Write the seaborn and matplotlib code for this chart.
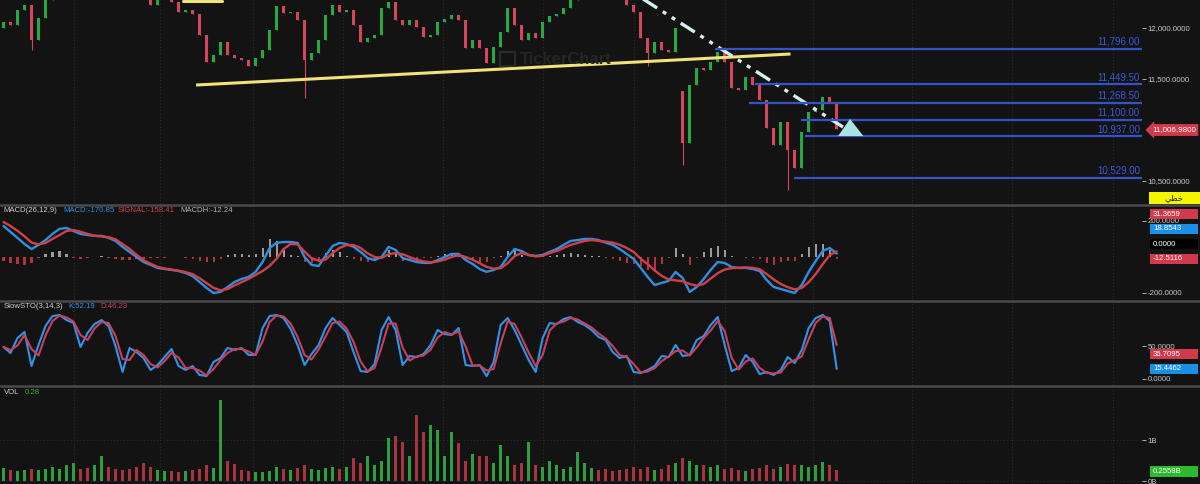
import matplotlib
matplotlib.use("Agg")
import matplotlib.pyplot as plt
from matplotlib.patches import Rectangle
from matplotlib.lines import Line2D
from matplotlib.ticker import FuncFormatter
import seaborn as sns
import numpy as np
import pandas as pd

# ---- data (one value per candle) ----
closes = [12059, 12029, 12176, 12225, 11880, 12098, 12274,
          12330, 12380, 12420, 12450, 12430, 12400, 12440, 12470, 12450, 12420, 12390, 12360, 12330, 12290,
          12225, 12320, 12340, 12255, 12157, 12176, 12137, 11931, 11667, 11735,
          11863, 11735, 11706, 11686, 11627, 11706, 11784, 11980, 12216, 12147,
          12157, 12078, 11686, 11755, 11882, 12127, 12225, 12157, 12176, 12029,
          11863, 11902, 11931, 12196, 12255, 12078, 12029, 12078, 12010, 11912,
          11931, 12059, 12088, 12127, 12078, 11804, 11882, 11804, 11657, 11814,
          11961, 12196, 12029, 11882, 11951, 11902, 12059, 12118, 12137, 12196,
          12274, 12330, 12380, 12400, 12380, 12350, 12310, 12300, 12225, 12157,
          11902, 11755, 11863, 11784, 11765, 12000, 10870, 11441, 11608, 11588,
          11667, 11765, 11667, 11412, 11392, 11520, 11441, 11294, 11020, 10853,
          11078, 10804, 10627, 10980, 11176, 11196, 11324, 11265, 11007]
gap_opens = {0: 12000, 97: 11380}
long_lows = {4: 11784, 43: 11314, 92: 11630, 97: 10657, 112: 10412}

volumes_b = [0.32, 0.28, 0.25, 0.27, 0.30, 0.28, 0.30, 0.33, 0.30, 0.38,
             0.45, 0.30, 0.32, 0.38, 0.62, 0.35, 0.30, 0.28, 0.30, 0.33,
             0.45, 0.35, 0.28, 0.25, 0.25, 0.22, 0.25, 0.28, 0.30, 0.38,
             0.32, 1.98, 0.50, 0.42, 0.28, 0.25, 0.22, 0.22, 0.24, 0.35,
             0.30, 0.28, 0.32, 0.38, 0.30, 0.28, 0.32, 0.35, 0.30, 0.33,
             0.55, 0.45, 0.60, 0.40, 0.50, 1.05, 1.10, 0.95, 0.60, 1.60,
             1.20, 1.37, 1.25, 0.60, 1.20, 0.93, 0.50, 0.65, 0.60, 0.62,
             0.45, 0.88, 0.60, 0.38, 0.45, 0.95, 0.40, 0.35, 0.50, 0.38,
             0.30, 0.35, 0.70, 0.45, 0.32, 0.28, 0.30, 0.25, 0.28, 0.30,
             0.35, 0.30, 0.33, 0.28, 0.30, 0.40, 0.45, 0.56, 0.48, 0.40,
             0.38, 0.35, 0.40, 0.30, 0.32, 0.28, 0.25, 0.30, 0.32, 0.38,
             0.30, 0.35, 0.42, 0.40, 0.38, 0.35, 0.40, 0.46, 0.38, 0.26]

macd = [172, 139, 106, 72, 44, 67, 94, 128, 156, 161,
        144, 128, 122, 117, 117, 106, 89, 56, 28, 0,
        -28, -44, -61, -67, -72, -78, -89, -106, -139, -172,
        -200, -194, -167, -139, -122, -111, -83, -28, 50, 78,
        83, 83, 78, 0, -44, -50, 6, 61, 78, 72,
        56, 28, -6, -17, 0, 56, 39, -6, -17, -28,
        -33, -33, -17, 0, 17, 17, -17, -39, -67, -83,
        -72, -56, 0, 44, 33, 11, 6, 11, 28, 44,
        67, 89, 94, 100, 100, 94, 80, 67, 44, 17,
        -11, -61, -111, -156, -144, -133, -83, -117, -194, -167,
        -122, -72, -28, -33, -56, -61, -61, -67, -78, -128,
        -167, -178, -189, -200, -156, -83, -22, 33, 50, 19]
signal = [194, 172, 145, 115, 80, 70, 78, 100, 122, 144,
          150, 140, 128, 118, 114, 110, 98, 72, 45, 12,
          -18, -38, -55, -64, -70, -76, -84, -95, -118, -145,
          -172, -185, -178, -158, -140, -122, -100, -78, -50, -10,
          44, 72, 70, 30, -8, -20, -15, 22, 50, 66,
          66, 50, 20, 0, -5, 15, 22, 15, 0, -15,
          -25, -30, -25, -15, 0, 10, 0, -15, -35, -55,
          -65, -62, -35, 5, 22, 11, 3, 6, 22, 33,
          50, 67, 78, 89, 94, 89, 85, 80, 68, 50,
          28, -10, -40, -75, -105, -125, -130, -135, -150, -160,
          -150, -120, -90, -70, -62, -60, -58, -60, -68, -95,
          -125, -150, -168, -180, -172, -140, -95, -40, 10, 31]

stoch_k = [48.5, 39.4, 62.1, 71.2, 19.7, 51.5, 80.3, 95.4, 97.0, 89.4,
           84.8, 48.5, 69.7, 83.3, 89.4, 80.3, 50.0, 10.6, 47.0, 40.9,
           31.8, 13.6, 21.2, 33.3, 45.5, 19.7, 13.6, 19.7, 6.1, 4.5,
           25.8, 31.8, 47.0, 43.9, 47.0, 36.4, 36.4, 77.3, 95.4, 97.0,
           92.4, 75.8, 51.5, 21.2, 37.9, 51.5, 77.3, 92.4, 81.8, 71.2,
           40.9, 12.1, 10.6, 22.7, 74.2, 93.9, 74.2, 21.2, 34.8, 33.3,
           37.9, 51.5, 74.2, 68.2, 66.7, 77.3, 21.2, 19.7, 21.2, 4.5,
           25.8, 81.8, 92.4, 74.2, 51.5, 28.8, 10.6, 62.1, 84.8, 83.3,
           90.9, 93.9, 86.4, 81.8, 74.2, 63.6, 59.1, 40.9, 31.8, 34.8,
           10.6, 9.1, 13.6, 19.7, 34.8, 33.3, 51.5, 34.8, 36.4, 59.1,
           65.2, 81.8, 93.9, 51.5, 12.1, 16.7, 36.4, 25.8, 7.6, 10.6,
           6.1, 13.6, 33.3, 24.2, 43.9, 77.3, 92.4, 97.0, 87.9, 15.2]

levels = [11796.0, 11449.5, 11268.5, 11100.0, 10937.0, 10529.0]
level_starts = [101.6, 107.4, 106.5, 113.9, 114.5, 112.9]
support_x, support_y = [27.5, 112.4], [11441, 11745]
upper_x, upper_y = [25.6, 31.2], [12262, 12262]
trend_x, trend_y = [90.9, 119.9], [12304, 11029]
tri_x, tri_y = [119.2, 120.9, 122.8], [10941, 11108, 10941]
month_pos = [10, 22.4, 35.6, 48.5, 62.8, 77.1, 90, 103, 115.6, 129.8, 144, 158.4]

# ---- derived series ----
n = len(closes)
idx = np.arange(n)
closes = np.array(closes, float)
opens = np.array([gap_opens.get(i, closes[i - 1] if i else closes[0]) for i in range(n)], float)
body_lo = np.minimum(opens, closes)
body_hi = np.maximum(opens, closes)
lows = np.array([long_lows.get(i, body_lo[i]) for i in range(n)])
up = closes >= opens
hist = np.array(macd) - np.array(signal)
stoch_d = pd.Series(stoch_k).rolling(2, min_periods=1).mean()

BG = "#131313"
GREEN, RED = "#27a844", "#d4475a"
TXT = "#c8c8c8"

sns.set_theme(style="dark", rc={"axes.facecolor": BG, "figure.facecolor": BG,
                                "patch.edgecolor": "none", "patch.linewidth": 0})
plt.rcParams["font.family"] = ["Liberation Sans", "DejaVu Sans"]

W, H = 1200, 484
fig = plt.figure(figsize=(12, 4.84), dpi=100)


def fx(px):
    return px / W


def fy(py):
    return 1 - py / H


def panel(top, bottom):
    return [0, 1 - bottom / H, 1142 / W, (bottom - top) / H]


ax_p = fig.add_axes(panel(0, 204))
ax_m = fig.add_axes(panel(206, 300), sharex=ax_p)
ax_s = fig.add_axes(panel(302, 385), sharex=ax_p)
ax_v = fig.add_axes(panel(387, 484), sharex=ax_p)

for ax in (ax_p, ax_m, ax_s, ax_v):
    ax.set_facecolor(BG)
    for sp in ax.spines.values():
        sp.set_visible(False)
    ax.yaxis.tick_right()
    ax.tick_params(axis="y", colors=TXT, labelsize=5.6, length=3, pad=1, width=0.6)
    ax.tick_params(axis="x", bottom=False, labelbottom=False, length=0)
    ax.set_xticks(month_pos)
    ax.grid(axis="x", color="#2e2e2e", linestyle=(0, (1, 2)), linewidth=0.8)

# ---- price panel ----
ax_p.vlines(idx, lows, body_hi, color=np.where(up, GREEN, RED), lw=0.8)
ax_p.bar(idx, np.maximum(body_hi - body_lo, 8), bottom=body_lo, width=0.45,
         color=np.where(up, GREEN, RED), edgecolor="none", linewidth=0)
ax_p.plot(support_x, support_y, color="#f2e27a", lw=2.2, solid_capstyle="butt")
ax_p.plot(upper_x, upper_y, color="#f2e27a", lw=2.2)
ax_p.plot(trend_x, trend_y, color="#d6efed", lw=2.4, dashes=(5, 2, 1.2, 2, 1.2, 2))
ax_p.fill(tri_x, tri_y, color="#a9e4e2", zorder=5)
for lv, st in zip(levels, level_starts):
    ax_p.hlines(lv, st, 162.6, color="#3453c9", lw=1.6)
    ax_p.annotate(f"{lv:,.2f}", (162.3, lv), xytext=(0, 1.5), textcoords="offset points",
                  ha="right", va="bottom", color="#3b5bd6", fontsize=7)
ax_p.set_ylim(10274.5, 12274.5)
ax_p.set_yticks([10500, 11500, 12000])
ax_p.yaxis.set_major_formatter(FuncFormatter(lambda v, p: f"{v:,.4f}"))

# ---- MACD panel ----
ax_m.bar(idx, hist, width=0.3, color=np.where(hist >= 0, "#9a9a9a", "#b8323c"),
         edgecolor="none", linewidth=0)
sns.lineplot(x=idx, y=macd, ax=ax_m, color="#2f8fe0", linewidth=1.7)
sns.lineplot(x=idx, y=signal, ax=ax_m, color="#d0404a", linewidth=1.7)
ax_m.set_ylim(-239, 283)
ax_m.set_yticks([-200, 200])
ax_m.yaxis.set_major_formatter(FuncFormatter(lambda v, p: f"{v:.4f}"))

# ---- stochastic panel ----
sns.lineplot(x=idx, y=stoch_k, ax=ax_s, color="#2f95e8", linewidth=1.5)
sns.lineplot(x=idx, y=stoch_d, ax=ax_s, color="#c8405e", linewidth=1.5)
ax_s.set_ylim(-9.1, 116.7)
ax_s.set_yticks([0, 50])
ax_s.yaxis.set_major_formatter(FuncFormatter(lambda v, p: f"{v:.4f}"))

# ---- volume panel ----
ax_v.bar(idx, volumes_b, width=0.42, color=np.where(up, "#2e9e3e", "#a8343e"),
         edgecolor="none", linewidth=0)
ax_v.set_ylim(-0.073, 2.293)
ax_v.set_yticks([0, 1])
ax_v.yaxis.set_major_formatter(FuncFormatter(lambda v, p: f"{v:.0f}B"))
ax_v.grid(axis="y", color="#2e2e2e", linestyle=(0, (1, 2)), linewidth=0.8)

for ax in (ax_p, ax_m, ax_s, ax_v):
    ax.set_xlabel("")
    ax.set_ylabel("")
ax_p.set_xlim(-0.5, 162.6)

# ---- panel separators ----
for py in (205, 301, 386):
    fig.add_artist(Line2D([0, 1], [fy(py), fy(py)], transform=fig.transFigure,
                          color="#4a4a4a", lw=1.8))

# ---- watermark ----
fig.add_artist(Rectangle((fx(500), fy(66)), 15 / W, 14 / H, transform=fig.transFigure,
                         fc="none", ec="#2a2a2a", lw=1.5))
fig.text(fx(520), fy(59), "TickerChart", color="#262626", fontsize=12,
         fontweight="bold", va="center", ha="left")


# ---- legends ----
def label_row(py, parts):
    for px, s, c in parts:
        fig.text(fx(px), fy(py), s, color=c, fontsize=5.6, va="center", ha="left")


label_row(211, [(3, "MACD(26,12,9)", "#d0d0d0"), (63, "MACD:-170.85", "#2f8fe0"),
                (118, "SIGNAL:-158.41", "#d0404a"), (180, "MACDH:-12.24", "#b0b0b0")])
label_row(306, [(4, "SlowSTO(3,14,3)", "#d0d0d0"), (68, "K:52.19", "#2f95e8"),
                (100, "D:46.23", "#c8405e")])
label_row(392, [(4, "VOL", "#d0d0d0"), (25, "0.28", "#2eb83e")])


# ---- value boxes on the right ----
def value_box(top, bottom, s, fc, tc="white"):
    fig.add_artist(Rectangle((fx(1150), fy(bottom)), 48 / W, (bottom - top) / H,
                             transform=fig.transFigure, fc=fc, ec="none", zorder=10))
    fig.text(fx(1153), fy((top + bottom) / 2), s, color=tc, fontsize=5.6,
             va="center", ha="left", zorder=11)


fig.text(fx(1152), fy(130), "11,006.9800", color="white", fontsize=5.8, va="center",
         ha="left", zorder=11,
         bbox=dict(boxstyle="larrow,pad=0.3", fc="#cf3b4a", ec="none"))
fig.add_artist(Rectangle((fx(1149), fy(204)), 51 / W, 12 / H, transform=fig.transFigure,
                         fc="#f5f500", ec="none", zorder=10))
fig.text(fx(1174), fy(198), "\ufef2\ufec4\ufea7", color="#222222", fontsize=6,
         va="center", ha="center", family="DejaVu Sans", zorder=11)

value_box(209, 219, "31.3659", "#d13a4a")
value_box(224, 234, "18.8543", "#1a8fe8")
value_box(239, 249, "0.0000", "#000000")
value_box(254, 264, "-12.5116", "#d13a4a")
value_box(349, 359, "36.7095", "#d13a4a")
value_box(364, 374, "15.4462", "#1a8fe8")
value_box(466, 477, "0.2558B", "#2db82d")

fig.savefig("out.png", dpi=100, facecolor=BG)
